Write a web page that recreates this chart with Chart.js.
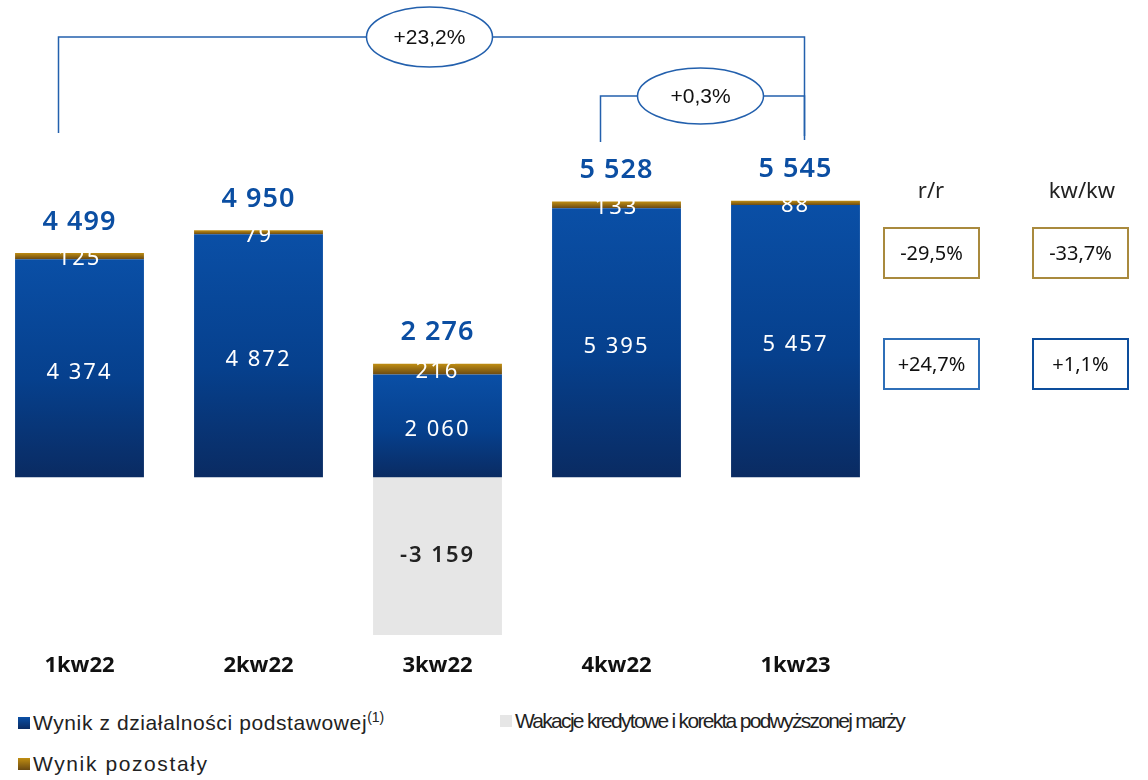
<!DOCTYPE html>
<html>
<head>
<meta charset="utf-8">
<script src="https://cdn.jsdelivr.net/npm/chart.js@4/dist/chart.umd.min.js"></script>
<style>
    body { margin: 0; background: #fff; width: 1148px; height: 780px; overflow: hidden; position: relative; font-family: "Noto Sans", sans-serif; }
    #wrap { position: absolute; left: -10px; top: 0; width: 1158px; height: 700px; }
    .hdr { position: absolute; top: 174px; font-size: 22px; color: #222; text-align: center; width: 120px; }
    .box { position: absolute; width: 97px; height: 52px; box-sizing: border-box; border: 2px solid; font-size: 20px; color: #111; text-align: center; line-height: 48px; }
    .legend { position: absolute; left: 18px; font-family: "Liberation Sans", sans-serif; font-size: 21px; color: #222; white-space: nowrap; }
    .legend i { display: inline-block; width: 12px; height: 12px; margin-right: 3px; vertical-align: 1px; }
    .legend sup { font-size: 14px; letter-spacing: 0; }
</style>
</head>
<body>
<div id="wrap"><canvas id="chart" width="1158" height="700"></canvas></div>
<div id="side"></div>
<div id="legend"></div>
<script>
const quarters = ["1kw22", "2kw22", "3kw22", "4kw22", "1kw23"];
const coreResult = [4374, 4872, 2060, 5395, 5457];
const otherResult = [125, 79, 216, 133, 88];
const creditHolidays = [0, 0, -3159, 0, 0];
const totals = [4499, 4950, 2276, 5528, 5545];

const seriesNames = [
    "Wynik z działalności podstawowej",
    "Wynik pozostały",
    "Wakacje kredytowe i korekta podwyższonej marży",
];

const changeHeaders = ["r/r", "kw/kw"];
const otherChanges = ["-29,5%", "-33,7%"];
const coreChanges = ["+24,7%", "+1,1%"];
const bracketLabels = ["+23,2%", "+0,3%"];

function fmt(n) {
    const s = String(Math.abs(n)).replace(/\B(?=(\d{3})+(?!\d))/g, " ");
    return (n < 0 ? "-" : "") + s;
}

function blueFill(ctx) {
    const chart = ctx.chart;
    const y = chart.scales.y;
    if (!y || !chart.chartArea) return "#0a4ea3";
    const top = y.getPixelForValue(coreResult[ctx.dataIndex]);
    const base = y.getPixelForValue(0);
    const g = chart.ctx.createLinearGradient(0, top, 0, base);
    g.addColorStop(0, "#0a4fa6");
    g.addColorStop(0.55, "#06408d");
    g.addColorStop(1, "#0a2b62");
    return g;
}

function goldFill(ctx) {
    const chart = ctx.chart;
    const y = chart.scales.y;
    if (!y || !chart.chartArea) return "#b0800f";
    const i = ctx.dataIndex;
    const top = y.getPixelForValue(coreResult[i] + otherResult[i]);
    const base = y.getPixelForValue(coreResult[i]);
    const g = chart.ctx.createLinearGradient(0, top, 0, base);
    g.addColorStop(0, "#c08e12");
    g.addColorStop(1, "#6a4912");
    return g;
}

const labelPlugin = {
    id: "labels",
    afterDatasetsDraw(chart) {
        const ctx = chart.ctx;
        ctx.save();
        ctx.textAlign = "center";
        ctx.textBaseline = "middle";
        const metas = [0, 1, 2].map((i) => chart.getDatasetMeta(i));
        quarters.forEach((q, i) => {
            // core
            const b = metas[0].data[i];
            ctx.fillStyle = "#ffffff";
            ctx.letterSpacing = "2px";
            ctx.font = "22px 'Noto Sans'";
            ctx.fillText(fmt(coreResult[i]), b.x, (b.y + b.base) / 2 + 4);
            // other
            const o = metas[1].data[i];
            ctx.fillText(fmt(otherResult[i]), o.x, (o.y + o.base) / 2 + 3);
            // holidays
            if (creditHolidays[i] !== 0) {
                const h = metas[2].data[i];
                ctx.fillStyle = "#222";
                ctx.font = "600 22px 'Noto Sans'";
                ctx.fillText(fmt(creditHolidays[i]), h.x, (h.y + h.base) / 2);
            }
            // total
            ctx.fillStyle = "#0b4ea2";
            ctx.letterSpacing = "1px";
            ctx.font = "600 27px 'Noto Sans'";
            ctx.fillText(fmt(totals[i]), o.x, o.y - 31);
        });
        ctx.restore();
    },
    afterDraw(chart) {
        const ctx = chart.ctx;
        const x = chart.scales.x;
        ctx.save();
        ctx.strokeStyle = "#2360ad";
        ctx.lineWidth = 1.5;
        const brackets = [
            { x1: x.getPixelForValue(0) - 21, x2: x.getPixelForValue(4) + 9, y: 37, d1: 133, d2: 136, rx: 63, ry: 30 },
            { x1: x.getPixelForValue(3) - 16, x2: x.getPixelForValue(4) + 9, y: 96, d1: 142, d2: 140, rx: 63, ry: 28 },
        ];
        brackets.forEach((br, k) => {
            ctx.beginPath();
            ctx.moveTo(br.x1, br.d1);
            ctx.lineTo(br.x1, br.y);
            ctx.lineTo(br.x2, br.y);
            ctx.lineTo(br.x2, br.d2);
            ctx.stroke();
            const cx = (br.x1 + br.x2) / 2 - 2;
            ctx.beginPath();
            ctx.ellipse(cx, br.y, br.rx, br.ry, 0, 0, Math.PI * 2);
            ctx.fillStyle = "#fff";
            ctx.fill();
            ctx.stroke();
            ctx.fillStyle = "#111";
            ctx.textAlign = "center";
            ctx.textBaseline = "middle";
            ctx.font = "21px 'Liberation Sans'";
            ctx.fillText(bracketLabels[k], cx, br.y + 1);
        });
        ctx.restore();
    },
};

new Chart(document.getElementById("chart"), {
    type: "bar",
    data: {
        labels: quarters,
        datasets: [
            { label: seriesNames[0], data: coreResult, backgroundColor: blueFill },
            { label: seriesNames[1], data: otherResult, backgroundColor: goldFill },
            { label: seriesNames[2], data: creditHolidays, backgroundColor: "#e6e6e6" },
        ],
    },
    options: {
        responsive: false,
        maintainAspectRatio: false,
        animation: false,
        events: [],
        layout: { padding: { top: 178, right: 263, left: 0, bottom: 14.6 } },
        datasets: { bar: { categoryPercentage: 1, barPercentage: 0.72, borderWidth: 0 } },
        plugins: { legend: { display: false }, tooltip: { enabled: false } },
        scales: {
            x: {
                stacked: true,
                grid: { display: false, drawTicks: false },
                border: { display: false },
                ticks: { color: "#111", padding: 6, font: { family: "Open Sans", size: 22, weight: "bold" } },
            },
            y: { stacked: true, display: false, min: -3400, max: 6000 },
        },
    },
    plugins: [labelPlugin],
});

// side change boxes
const side = document.getElementById("side");
const colX = [883, 1032];
changeHeaders.forEach((h, i) => {
    side.insertAdjacentHTML("beforeend",
        `<div class="hdr" style="left:${colX[i] + 48 - 60 + (i ? 2 : 0)}px">${h}</div>` +
        `<div class="box" style="left:${colX[i]}px;top:227px;border-color:#a98a3e">${otherChanges[i]}</div>` +
        `<div class="box" style="left:${colX[i]}px;top:338px;border-color:${i ? "#0d4d9c" : "#2f6fb8"}">${coreChanges[i]}</div>`);
});

// legend
const legend = document.getElementById("legend");
legend.innerHTML =
    `<div class="legend" style="top:709px;letter-spacing:0.6px"><i style="background:linear-gradient(#0a4fa6,#0a2b62)"></i>${seriesNames[0]}<sup>(1)</sup></div>` +
    `<div class="legend" style="top:709px;left:500px;letter-spacing:-1.7px"><i style="background:#e6e6e6"></i>${seriesNames[2]}</div>` +
    `<div class="legend" style="top:752px;letter-spacing:1.6px"><i style="background:linear-gradient(#c08e12,#6a4912)"></i>${seriesNames[1]}</div>`;
</script>
</body>
</html>
